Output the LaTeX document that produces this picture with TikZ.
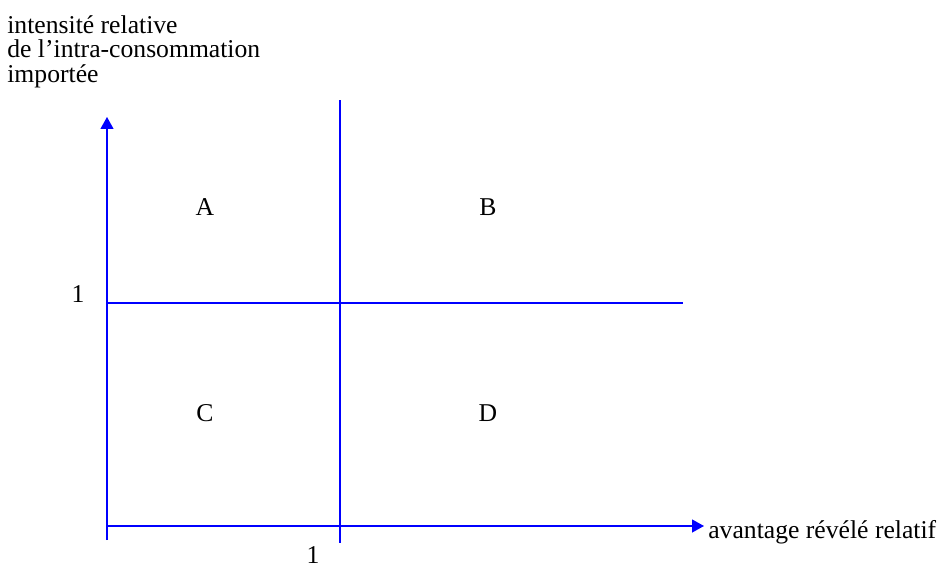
\documentclass[tikz,border=0pt]{standalone}
\usepackage{fontspec}
\setmainfont{Liberation Serif}
\usetikzlibrary{arrows.meta,positioning}
\definecolor{AxisBlue}{HTML}{0000FF}

\begin{document}
\begin{tikzpicture}[x=0.02cm, y=-0.02cm,
  axis/.style={AxisBlue, line width=0.7pt},
  arr/.style={-{Triangle[length=2.4mm, width=2.6mm]}, axis},
  lbl/.style={font=\fontsize{14.6}{13.9}\selectfont, inner sep=0pt},
  quad/.style={lbl, anchor=center}
]
\useasboundingbox (0,0) rectangle (940,568);
% axes
\coordinate (yb) at (107,540);
\coordinate (yt) at (107,117);
\coordinate (xl) at (107,526);
\coordinate (xr) at (704,526);
\draw[arr] (yb) -- (yt);
\draw[arr] (xl) -- (xr);
\node[lbl, anchor=base west] (xlab) at (708,538) {avantage révélé relatif};
\node[lbl, anchor=north west, align=left] (ylab) at (7,15)
  {intensité relative\\de l’intra-consommation\\importée};
% thresholds
\coordinate (vt) at (340,100);
\coordinate (vb) at (340,543);
\coordinate (hl) at (107,303);
\coordinate (hr) at (683,303);
\draw[axis] (vt) -- (vb);
\draw[axis] (hl) -- (hr);
\node[lbl, anchor=base] (one y) at (78,302) {1};
\node[lbl, anchor=base] (one x) at (313,563) {1};
% quadrants
\node[quad] (A) at (205,207) {A};
\node[quad] (B) at (488,207) {B};
\node[quad] (C) at (205,413) {C};
\node[quad] (D) at (488,413) {D};
\end{tikzpicture}
\end{document}
